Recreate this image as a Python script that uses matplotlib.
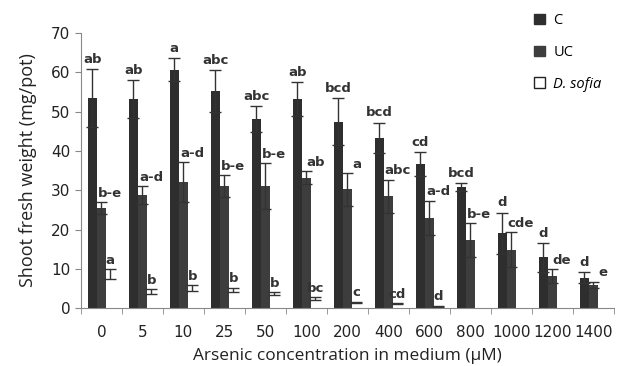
import matplotlib
matplotlib.use("Agg")
import matplotlib.pyplot as plt
from matplotlib.patches import Patch
import numpy as np

# %% data
conc = ['0', '5', '10', '25', '50', '100', '200', '400', '600', '800', '1000', '1200', '1400']

c_mean = [53.5, 53.2, 60.6, 55.2, 48.1, 53.2, 47.4, 43.3, 36.6, 30.9, 19.0, 12.9, 7.8]
c_err = [7.3, 4.8, 2.9, 5.4, 3.3, 4.4, 6.0, 3.9, 3.0, 1.0, 5.3, 3.7, 1.3]
c_lab = ['ab', 'ab', 'a', 'abc', 'abc', 'ab', 'bcd', 'bcd', 'cd', 'bcd', 'd', 'd', 'd']

uc_mean = [25.4, 28.8, 32.1, 31.0, 31.0, 33.2, 30.2, 28.5, 23.0, 17.3, 14.9, 8.1, 5.9]
uc_err = [1.5, 2.3, 5.1, 2.8, 5.8, 1.7, 4.2, 4.2, 4.3, 4.3, 4.5, 1.8, 0.8]
uc_lab = ['b-e', 'a-d', 'a-d', 'b-e', 'b-e', 'ab', 'a', 'abc', 'a-d', 'b-e', 'cde', 'de', 'e']

ds_mean = [8.7, 4.3, 5.1, 4.6, 3.7, 2.4, 1.5, 1.1, 0.5, 0, 0, 0, 0]
ds_err = [1.2, 0.6, 0.7, 0.6, 0.4, 0.4, 0.15, 0.1, 0.1, 0, 0, 0, 0]
ds_lab = ['a', 'b', 'b', 'b', 'b', 'bc', 'c', 'cd', 'd', '', '', '', '']

# %% plot
x = np.arange(len(conc))
width = 0.22

fig = plt.figure(figsize=(6.17, 3.66), dpi=100)
ax = fig.add_axes([0.131, 0.158, 0.864, 0.752])

ekw = dict(ecolor='#333333', elinewidth=1.0, capsize=4, capthick=1.0)
ax.bar(x - width, c_mean, width, yerr=c_err, color='#2e2e2e', error_kw=ekw)
ax.bar(x, uc_mean, width, yerr=uc_err, color='#3d3d3d', error_kw=ekw)
ds_x = [xi + width for xi, m in zip(x, ds_mean) if m > 0]
ds_m = [m for m in ds_mean if m > 0]
ds_e = [e for m, e in zip(ds_mean, ds_err) if m > 0]
ax.bar(ds_x, ds_m, width, yerr=ds_e, color='white', error_kw=ekw)

lkw = dict(ha='center', va='bottom', fontsize=9.5, fontweight='bold',
           color='#333333', family='DejaVu Sans')
for i in range(len(conc)):
    ax.text(x[i] - width, c_mean[i] + c_err[i] + 0.8, c_lab[i], **lkw)
    ax.text(x[i] + 0.22, uc_mean[i] + uc_err[i] + 0.6, uc_lab[i], **lkw)
    if ds_lab[i]:
        ax.text(x[i] + width, ds_mean[i] + ds_err[i] + 0.6, ds_lab[i], **lkw)

ax.set_xlim(-0.5, len(conc) - 0.5)
ax.set_ylim(0, 70)
ax.set_yticks(np.arange(0, 71, 10))
ax.set_xticks(x, conc)
ax.set_xticks(np.arange(-0.5, len(conc), 1), minor=True)
ax.tick_params(axis='x', which='major', length=0, pad=12, labelsize=11)
ax.tick_params(axis='x', which='minor', length=4, direction='out', color='#888888')
ax.tick_params(axis='y', length=4, direction='out', color='#888888', labelsize=11)
for lab in ax.get_xticklabels() + ax.get_yticklabels():
    lab.set_color('#222222')

for s in ['top', 'right']:
    ax.spines[s].set_visible(False)
ax.spines['left'].set_color('#888888')
ax.spines['bottom'].set_color('#888888')

ax.set_ylabel('Shoot fresh weight (mg/pot)', fontsize=13, family='Open Sans',
              color='#222222', labelpad=10)
ax.set_xlabel('Arsenic concentration in medium (\u03bcM)', fontsize=12.4, family='Open Sans',
              color='#222222', labelpad=6)

handles = [Patch(facecolor='#2e2e2e', edgecolor='#2e2e2e'),
           Patch(facecolor='white', edgecolor='white'),
           Patch(facecolor='white', edgecolor='#222222')]
handles[1] = Patch(facecolor='#3d3d3d', edgecolor='#3d3d3d')
leg = fig.legend(handles, ['C', 'UC', 'D. sofia'], loc='upper left',
                 bbox_to_anchor=(0.845, 1.0), frameon=False,
                 handlelength=0.7, handleheight=0.7, handletextpad=0.6,
                 labelspacing=1.15, prop={'family': 'Open Sans', 'size': 10.5})
leg.get_texts()[2].set_fontstyle('italic')

fig.savefig('out.png', dpi=100)
plt.close()
